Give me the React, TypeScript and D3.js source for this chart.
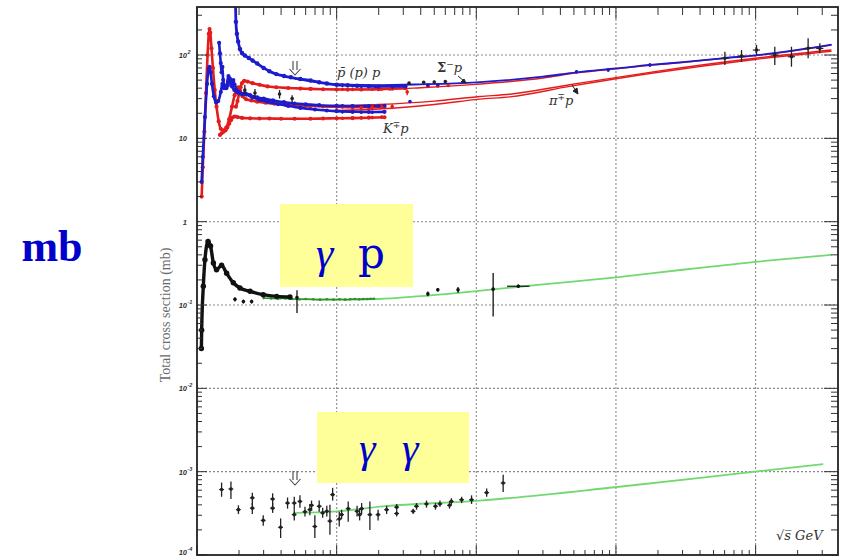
import React from "react";
import * as d3 from "d3";

type Pt = [number, number];
type Er = [number, number, number, number];

// ---------- axes ----------
const X_DOMAIN: Pt = [1, 38900];
const Y_DOMAIN: Pt = [1e-4, 377];
const xGrid = [10, 100, 1000, 10000];
const yGrid = [1e-3, 1e-2, 1e-1, 1, 10, 100];
const yTickLabels: { v: number; base: string; exp: string }[] = [
  { v: 100, base: "10", exp: "2" },
  { v: 10, base: "10", exp: "" },
  { v: 1, base: "1", exp: "" },
  { v: 0.1, base: "10", exp: "-1" },
  { v: 0.01, base: "10", exp: "-2" },
  { v: 0.001, base: "10", exp: "-3" },
  { v: 0.0001, base: "10", exp: "-4" },
];

// ---------- hadronic data (sqrt s GeV, sigma mb) ----------
const pbarpData: Pt[] = [[1.88, 600], [1.9, 250], [1.93, 180], [1.97, 145], [2.03, 118], [2.1, 106], [2.2, 99], [2.35, 92], [2.5, 86], [2.7, 79], [3.0, 70], [3.3, 64], [3.7, 59], [4.2, 56], [4.7, 54], [5.5, 51.5], [6.5, 49.5], [7.5, 47], [8.5, 45.5], [10, 44], [12, 43.3], [14, 42.8], [17, 42.3], [20, 42], [25, 42], [31, 42.3]];
const ppData: Pt[] = [[1.9, 24], [1.95, 28], [2.0, 34], [2.05, 41], [2.1, 46], [2.18, 49], [2.3, 48], [2.5, 46], [2.8, 44], [3.2, 42], [3.7, 41], [4.5, 40.2], [5.5, 39.6], [6.5, 39.2], [8, 38.8], [10, 38.6], [12, 38.5], [15, 38.6], [20, 38.9], [25, 39.4], [31, 40]];
const piPlusData: Pt[] = [[1.08, 2], [1.1, 4.5], [1.13, 12], [1.16, 35], [1.19, 100], [1.215, 180], [1.23, 205], [1.245, 185], [1.27, 120], [1.3, 70], [1.34, 38], [1.38, 24], [1.43, 16], [1.48, 13], [1.55, 12.5], [1.62, 13.5], [1.7, 17], [1.78, 24], [1.86, 33], [1.93, 40], [1.98, 41], [2.04, 37], [2.12, 32], [2.25, 29.5], [2.45, 28.5], [2.7, 27.5], [3.1, 26.8], [3.6, 26], [4.3, 25.4], [5.2, 25], [6.5, 24.5], [8, 24.1], [10, 23.9], [13, 23.6], [17, 23.6], [22, 23.8]];
const piMinusData: Pt[] = [[1.08, 3], [1.1, 6], [1.14, 18], [1.18, 45], [1.21, 68], [1.23, 72], [1.25, 62], [1.28, 45], [1.32, 32], [1.37, 27], [1.42, 28], [1.48, 36], [1.52, 45], [1.56, 40], [1.62, 42], [1.68, 56], [1.72, 52], [1.78, 42], [1.85, 38], [1.95, 35.5], [2.05, 34.5], [2.2, 35], [2.4, 33], [2.7, 31], [3.0, 30], [3.5, 28.5], [4.2, 27.2], [5, 26.2], [6, 25.6], [7.5, 25], [10, 24.6], [13, 24.4], [17, 24.4], [22, 24.6]];
const kMinusData: Pt[] = [[1.44, 140], [1.46, 105], [1.48, 80], [1.5, 62], [1.52, 72], [1.54, 50], [1.58, 42], [1.62, 40], [1.66, 43], [1.7, 47], [1.74, 50], [1.78, 46], [1.82, 50], [1.86, 44], [1.92, 38], [2.0, 36], [2.1, 34], [2.25, 33.5], [2.5, 31], [2.8, 29], [3.2, 27.5], [3.8, 25.8], [4.5, 24.5], [5.5, 23.2], [7, 22.2], [8.5, 21.6], [10, 21.2], [13, 20.9], [17, 20.7], [22, 20.8]];
const kPlusData: Pt[] = [[1.46, 11], [1.5, 11.5], [1.55, 12], [1.6, 12.5], [1.65, 13.5], [1.7, 15], [1.75, 16.5], [1.8, 17.8], [1.86, 18.3], [1.95, 18], [2.1, 17.6], [2.4, 17.4], [2.8, 17.3], [3.3, 17.3], [4, 17.2], [5, 17.2], [6.5, 17.2], [8, 17.3], [10, 17.4], [13, 17.5], [17, 17.7], [22, 17.9]];

// mid / high energy points with errors [sqrt s, sigma, lo, hi]
const pbarpPoints: Er[] = [[11, 43.5, 42, 45], [13, 42.8, 41.5, 44], [15, 42.2, 41, 43.5], [19, 41.8, 40.5, 43], [25, 41.8, 40.5, 43], [31, 42.2, 41, 43.5], [45, 43.5, 42, 45], [53, 44, 42.5, 45.5], [522, 63, 60, 66], [880, 66, 63, 69], [1750, 76, 72, 80]];
const ppPoints: Er[] = [[11, 38.8, 37.8, 39.8], [13, 38.6, 37.6, 39.6], [15, 38.6, 37.6, 39.6], [18, 38.8, 37.8, 39.8], [21, 39, 38, 40], [24, 39.2, 38, 40.4], [32, 36, 33, 38.5], [45, 41.9, 41, 42.8], [53, 42.4, 41.5, 43.3], [63, 43.1, 42, 44.2]];
const piPoints: Er[] = [[11, 23.8, 23, 24.6], [13, 23.6, 22.8, 24.4], [15, 23.5, 22.5, 24.5], [18, 23.7, 22.5, 25], [21, 23.9, 22.5, 25.3], [25, 24.1, 22.5, 25.7]];
const piMinusPoints: Er[] = [[11, 24.6, 23.8, 25.4], [13, 24.4, 23.6, 25.2], [16, 24.3, 23.5, 25.1], [20, 24.4, 23.6, 25.2], [33.5, 27.6, 26.8, 28.4]];
const kPoints: Er[] = [[11, 17.4, 16.8, 18], [13, 17.5, 16.8, 18.2], [15, 17.6, 16.8, 18.4], [18, 17.8, 17, 18.6], [21, 18, 17.2, 18.8]];
const kMinusPoints: Er[] = [[11, 20.8, 20, 21.6], [13, 20.7, 19.9, 21.5], [15, 20.6, 19.8, 21.4], [18, 20.6, 19.8, 21.4]];
const sigmaPoints: Er[] = [[33, 46, 44.5, 47.5], [42, 47, 45.5, 48.5], [50, 47.5, 46, 49], [60, 48, 46.5, 49.5]];
const highEnergyPoints: Er[] = [[6025, 91.3, 75.9, 109.5], [7925, 97.3, 83, 114.8], [10150, 114.8, 100, 131.8], [13720, 100, 75.9, 125.8], [18060, 95.4, 72.4, 125.8], [23770, 120.3, 91.3, 158.5], [28840, 120, 104.8, 138]];
const lowOtherPoints: Er[] = [[2.2, 38, 33, 44], [3.9, 34, 30, 38], [2.6, 35, 31, 39], [4.8, 30, 27, 33]];

// fits
const pbarpFit: Pt[] = [[5, 52], [10, 44.5], [20, 43.5], [40, 44.5], [100, 47], [300, 55], [522, 62], [1000, 69], [1750, 76], [3000, 82], [6000, 92], [10000, 99], [20000, 115], [35000, 133]];
const ppFit: Pt[] = [[5, 40], [10, 38.7], [20, 38.8], [40, 40.5], [100, 44.5], [300, 53], [522, 61], [1000, 68.5], [1750, 75.5], [3000, 81.5], [6000, 91.5], [10000, 98.5], [20000, 114.5], [35000, 132]];
const piFitA: Pt[] = [[8.9, 24.5], [20, 25.5], [50, 28], [106, 31.8], [174, 33.8], [465, 44], [1750, 62], [9870, 91.3], [34900, 114.8]];
const piFitB: Pt[] = [[8.9, 21.5], [20, 22.5], [50, 25.5], [106, 29.6], [174, 31.5], [465, 42], [1750, 60], [9870, 88.5], [34900, 111]];

// ---------- gamma p ----------
const gpLowData: Pt[] = [[1.075, 0.03], [1.08, 0.05], [1.11, 0.168], [1.14, 0.35], [1.2, 0.577], [1.25, 0.51], [1.31, 0.32], [1.38, 0.265], [1.5, 0.3], [1.63, 0.24], [1.82, 0.185], [2.03, 0.16], [2.4, 0.146], [2.98, 0.133], [3.72, 0.127], [4.63, 0.125]];
const gpMidData: Pt[] = [[3.0, 0.121], [3.4, 0.12], [3.8, 0.119], [4.3, 0.12], [4.8, 0.118], [5.4, 0.117], [6.0, 0.118], [6.8, 0.117], [7.6, 0.116], [8.5, 0.117], [9.5, 0.116], [10.5, 0.117], [11.5, 0.116], [12.5, 0.117], [13.5, 0.118], [14.5, 0.117], [15.5, 0.118], [16.5, 0.118], [17.5, 0.119], [18.5, 0.119]];
const gpPoints: Er[] = [[1.87, 0.117, 0.11, 0.124], [2.15, 0.11, 0.104, 0.116], [2.46, 0.11, 0.104, 0.116], [5.2, 0.123, 0.08, 0.15], [45, 0.136, 0.127, 0.145], [53, 0.152, 0.145, 0.16], [74, 0.152, 0.14, 0.165], [132, 0.155, 0.073, 0.243], [200, 0.168, 0.16, 0.176]];
const gpFit: Pt[] = [[5, 0.118], [10, 0.116], [20, 0.118], [40, 0.128], [100, 0.147], [300, 0.177], [1000, 0.215], [3000, 0.265], [10000, 0.33], [35000, 0.40]];

// ---------- gamma gamma ----------
const ggPoints: Er[] = [[1.5, 6.1e-4, 5.0e-4, 7.4e-4], [1.75, 6.2e-4, 4.7e-4, 7.6e-4], [1.98, 3.5e-4, 3.1e-4, 3.95e-4], [2.49, 4.85e-4, 3.9e-4, 5.6e-4], [2.49, 3.65e-4, 3.1e-4, 4.2e-4], [2.98, 2.6e-4, 2.25e-4, 3.0e-4], [3.48, 4.7e-4, 3.9e-4, 5.5e-4], [3.48, 3.65e-4, 3.2e-4, 4.2e-4], [3.97, 2.15e-4, 1.6e-4, 2.75e-4], [4.45, 4.2e-4, 3.6e-4, 4.9e-4], [4.97, 4.2e-4, 3.5e-4, 5.0e-4], [4.97, 3.05e-4, 2.6e-4, 3.5e-4], [5.46, 4.4e-4, 3.7e-4, 5.2e-4], [5.93, 3.3e-4, 2.9e-4, 3.8e-4], [6.43, 3.5e-4, 3.0e-4, 4.1e-4], [6.61, 3.95e-4, 3.4e-4, 4.5e-4], [6.98, 2.2e-4, 1.6e-4, 3.0e-4], [7.5, 3.85e-4, 3.3e-4, 4.5e-4], [7.94, 3.2e-4, 2.8e-4, 3.7e-4], [8.5, 3.35e-4, 2.9e-4, 3.9e-4], [8.95, 2.55e-4, 1.75e-4, 4.0e-4], [9.36, 5.3e-4, 4.5e-4, 6.4e-4], [10.44, 2.7e-4, 2.2e-4, 3.3e-4], [10.85, 3.05e-4, 2.7e-4, 3.5e-4], [12.1, 3.6e-4, 2.5e-4, 4.4e-4], [14.0, 3.35e-4, 2.9e-4, 3.9e-4], [14.6, 3.05e-4, 2.6e-4, 3.6e-4], [15.1, 3.6e-4, 3.1e-4, 4.2e-4], [17.3, 3.05e-4, 2.0e-4, 4.4e-4], [19.8, 3.05e-4, 2.6e-4, 3.5e-4], [22.8, 3.5e-4, 3.1e-4, 3.9e-4], [26.9, 3.75e-4, 3.4e-4, 4.1e-4], [26.9, 3.15e-4, 2.9e-4, 3.4e-4], [35.3, 3.35e-4, 3.1e-4, 3.6e-4], [37.3, 3.85e-4, 3.5e-4, 4.2e-4], [44, 4.1e-4, 3.7e-4, 4.5e-4], [51, 3.85e-4, 3.5e-4, 4.2e-4], [54.9, 4.1e-4, 3.8e-4, 4.5e-4], [64.3, 3.95e-4, 3.6e-4, 4.3e-4], [66.3, 4.4e-4, 4.0e-4, 4.8e-4], [78.5, 4.6e-4, 4.2e-4, 5.0e-4], [92.5, 4.6e-4, 4.1e-4, 5.2e-4], [118.6, 5.6e-4, 5.0e-4, 6.3e-4], [155.7, 7.3e-4, 5.7e-4, 9.2e-4]];
const ggFit: Pt[] = [[4.9, 3.2e-4], [10, 3.34e-4], [21.6, 3.84e-4], [106, 4.5e-4], [980, 6.5e-4], [9900, 1.0e-3], [30500, 1.23e-3]];

const RED = "#e41c1c";
const BLUE = "#1c1ccc";
const GREEN = "#72d872";

const L = 197, R = 838, T = 7, B = 555;

function DoubleArrow({ cx, top }: { cx: number; top: number }) {
  return (
    <g fill="none" stroke="#444" strokeWidth={1.1} strokeLinejoin="miter">
      <path d={`M${cx - 2},${top} V${top + 9} M${cx + 2},${top} V${top + 9}`} />
      <path d={`M${cx - 5.5},${top + 8} L${cx},${top + 14} L${cx + 5.5},${top + 8}`} />
    </g>
  );
}

export default function App() {
  const x = d3.scaleLog().domain(X_DOMAIN).range([L, R]);
  const y = d3.scaleLog().domain(Y_DOMAIN).range([B, T]);
  const line = d3.line<Pt>().x((d) => x(d[0])).y((d) => y(d[1])).curve(d3.curveMonotoneX);

  const xTicks = x.ticks(40).filter((v) => v >= X_DOMAIN[0] && v <= X_DOMAIN[1]);
  const yTicks = y.ticks(60).filter((v) => v >= Y_DOMAIN[0] && v <= Y_DOMAIN[1]);
  const isMajor = (v: number) => Math.abs(Math.log10(v) - Math.round(Math.log10(v))) < 1e-6;

  const dense = (data: Pt[], color: string, w: number, key: string) => (
    <g key={key}>
      <path d={line(data) || ""} fill="none" stroke={color} strokeWidth={w} strokeLinejoin="round" />
      {data.map((d, i) => (
        <circle key={i} cx={x(d[0])} cy={y(d[1])} r={w * 0.8} fill={color} />
      ))}
    </g>
  );

  const crosses = (data: Er[], color: string, key: string, hfrac = 0) => (
    <g key={key} stroke={color} fill={color}>
      {data.map((d, i) => (
        <g key={i}>
          <line x1={x(d[0])} x2={x(d[0])} y1={y(d[2])} y2={y(d[3])} strokeWidth={1.3} />
          {hfrac > 0 && (
            <line x1={x(d[0] * (1 - hfrac))} x2={x(d[0] * (1 + hfrac))} y1={y(d[1])} y2={y(d[1])} strokeWidth={1.1} />
          )}
          <circle cx={x(d[0])} cy={y(d[1])} r={1.8} stroke="none" />
        </g>
      ))}
    </g>
  );

  return (
    <svg width={848} height={558} style={{ position: "absolute", left: 0, top: 0, background: "#fff" }}>
      <defs>
        <clipPath id="plotClip">
          <rect x={L} y={T} width={R - L} height={B - T} />
        </clipPath>
      </defs>

      {/* grid */}
      <g stroke="#8a8a8a" strokeWidth={1.1} strokeDasharray="2,2">
        {xGrid.map((v) => (
          <line key={"gx" + v} x1={x(v)} x2={x(v)} y1={T} y2={B} />
        ))}
        {yGrid.map((v) => (
          <line key={"gy" + v} x1={L} x2={R} y1={y(v)} y2={y(v)} />
        ))}
      </g>

      <g clipPath="url(#plotClip)">
        {/* fits */}
        <path d={line(ppFit) || ""} fill="none" stroke={RED} strokeWidth={1.4} />
        <path d={line(pbarpFit) || ""} fill="none" stroke={BLUE} strokeWidth={1.8} />
        <path d={line(piFitA) || ""} fill="none" stroke={RED} strokeWidth={1.4} />
        <path d={line(piFitB) || ""} fill="none" stroke={RED} strokeWidth={1.4} />
        <path d={line(gpFit) || ""} fill="none" stroke={GREEN} strokeWidth={1.8} />
        <path d={line(ggFit) || ""} fill="none" stroke={GREEN} strokeWidth={1.8} />

        {/* hadronic dense data */}
        {dense(kPlusData, RED, 2.6, "kp")}
        {dense(piPlusData, RED, 2.6, "pip")}
        {dense(ppData, RED, 2.6, "pp")}
        {dense(kMinusData, BLUE, 2.6, "km")}
        {dense(piMinusData, BLUE, 2.6, "pim")}
        {dense(pbarpData, BLUE, 2.8, "pbp")}

        {crosses(ppPoints, RED, "ppP")}
        {crosses(pbarpPoints, BLUE, "pbpP")}
        {crosses(piPoints, RED, "piP")}
        {crosses(piMinusPoints, BLUE, "pimP")}
        {crosses(kPoints, RED, "kP")}
        {crosses(kMinusPoints, BLUE, "kmP")}
        {crosses(sigmaPoints, "#222", "sigP")}
        {crosses(highEnergyPoints, "#222", "heP", 0.06)}
        {crosses(lowOtherPoints, "#222", "loP")}

        {/* gamma p */}
        {dense(gpMidData, "#2f8f2f", 1.6, "gpm")}
        {dense(gpLowData, "#111", 3.4, "gpl")}
        {crosses(gpPoints, "#111", "gpP")}
        <line x1={x(166)} x2={x(240)} y1={y(0.168)} y2={y(0.168)} stroke="#111" strokeWidth={1.2} />

        {/* gamma gamma */}
        {crosses(ggPoints, "#222", "ggP", 0.04)}
      </g>

      {/* ticks */}
      <g stroke="#333" strokeWidth={1}>
        {xTicks.map((v, i) => {
          const m = isMajor(v);
          return (
            <g key={"xt" + i}>
              <line x1={x(v)} x2={x(v)} y1={B} y2={B - (m ? 10 : 5)} />
              <line x1={x(v)} x2={x(v)} y1={T} y2={T + (m ? 12 : 8)} />
            </g>
          );
        })}
        {yTicks.map((v, i) => {
          const m = isMajor(v);
          return (
            <g key={"yt" + i}>
              <line x1={L} x2={L + (m ? 10 : 5)} y1={y(v)} y2={y(v)} />
              <line x1={R} x2={R - (m ? 14 : 7)} y1={y(v)} y2={y(v)} />
            </g>
          );
        })}
      </g>

      {/* frame */}
      <rect x={L} y={T} width={R - L} height={B - T} fill="none" stroke="#222" strokeWidth={1.8} />

      {/* y tick labels */}
      <g fontFamily="Liberation Sans" fontWeight="bold" fontStyle="italic" fontSize={7.5} fill="#333">
        {yTickLabels.map((t) => (
          <text key={t.base + t.exp} x={187} y={Math.min(y(t.v) + 3, 555)} textAnchor="end">
            {t.base}
          </text>
        ))}
        {yTickLabels.filter((t) => t.exp).map((t) => (
          <text key={"e" + t.exp} x={187.5} y={Math.min(y(t.v) - 1, 551)} fontSize={5.5}>
            {t.exp}
          </text>
        ))}
      </g>

      {/* axis titles */}
      <text transform="translate(170,315) rotate(-90)" textAnchor="middle" fontFamily="Liberation Serif" fontSize={14} fill="#6a6a6a">
        Total cross section (mb)
      </text>
      <text x={776} y={540} fontFamily="DejaVu Serif" fontStyle="italic" fontSize={13} fill="#333">
        √s̅ GeV
      </text>

      {/* process labels */}
      <g fontFamily="DejaVu Serif" fontStyle="italic" fontSize={13} fill="#333">
        <text x={337} y={77}>p̄ (p) p</text>
        <text x={437} y={72}>
          <tspan fontWeight="bold" fontStyle="normal">Σ</tspan>
          <tspan dy={-5} fontSize={9}>−</tspan>
          <tspan dy={5}>p</tspan>
        </text>
        <text x={383} y={133}>
          K<tspan dy={-5} fontSize={9}>∓</tspan><tspan dy={5}>p</tspan>
        </text>
        <text x={549} y={105}>
          π<tspan dy={-5} fontSize={9}>∓</tspan><tspan dy={5}>p</tspan>
        </text>
      </g>
      <g fill="#222" stroke="#222" strokeWidth={1}>
        <path d="M458,76 L464,81" />
        <path d="M466,83 L461,82 L464,79 Z" />
        <path d="M572,85 L576,91" />
        <path d="M578,94 L573,91 L577,88 Z" />
      </g>
      <DoubleArrow cx={295} top={61} />
      <DoubleArrow cx={295} top={471} />

      {/* annotation boxes */}
      <rect x={280} y={204} width={133} height={83} fill="#ffff99" />
      <text x={316} y={268} fontFamily="Liberation Serif" fontStyle="italic" fontSize={44} fill="#0000cc">
        γ
      </text>
      <text x={358} y={268} fontFamily="DejaVu Serif" fontSize={42} fill="#0000cc">
        p
      </text>
      <rect x={317} y={412} width={152} height={71} fill="#ffff99" />
      <text x={359} y={462} fontFamily="Liberation Serif" fontStyle="italic" fontSize={42} fill="#0000cc">
        γ
      </text>
      <text x={402} y={462} fontFamily="Liberation Serif" fontStyle="italic" fontSize={42} fill="#0000cc">
        γ
      </text>

      <text x={52} y={261} textAnchor="middle" fontFamily="Liberation Serif" fontWeight="bold" fontSize={44} fill="#0000cc">
        mb
      </text>
    </svg>
  );
}
